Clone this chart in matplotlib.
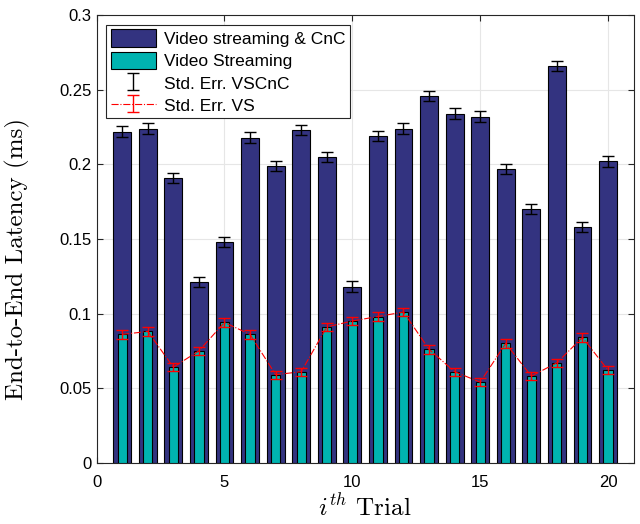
import numpy as np
import matplotlib.pyplot as plt

plt.rcParams['mathtext.fontset'] = 'cm'
plt.rcParams['font.family'] = ['Liberation Sans', 'DejaVu Sans']

# datos
trials = np.arange(1, 21)
vscnc = [0.222, 0.224, 0.191, 0.121, 0.148, 0.218, 0.199, 0.223, 0.205, 0.118,
         0.219, 0.224, 0.246, 0.234, 0.232, 0.197, 0.170, 0.266, 0.158, 0.202]
vs = [0.086, 0.088, 0.064, 0.075, 0.094, 0.086, 0.059, 0.061, 0.091, 0.095,
      0.098, 0.101, 0.076, 0.061, 0.054, 0.080, 0.058, 0.067, 0.084, 0.062]
err_vscnc = [0.0035] * 20
err_vs = [0.0028] * 20

fig = plt.figure(figsize=(6.4, 5.24), dpi=100)
ax = fig.add_axes([0.151, 0.117, 0.839, 0.854])

ax.bar(trials, vscnc, width=0.7, color='#333380', edgecolor='black', linewidth=0.8,
       label='Video streaming & CnC', zorder=2)
ax.bar(trials, vs, width=0.36, color='#00b3b0', edgecolor='black', linewidth=0.8,
       label='Video Streaming', zorder=3)
ax.errorbar(trials, vscnc, yerr=err_vscnc, fmt='none', ecolor='black', elinewidth=1,
            capsize=4, capthick=1, label='Std. Err. VSCnC', zorder=4)
ax.errorbar(trials, vs, yerr=err_vs, fmt='-.', color='red', ecolor='red', linewidth=0.8,
            elinewidth=1, capsize=4, capthick=1, label='Std. Err. VS', zorder=5)

ax.set_xlim(0, 21)
ax.set_ylim(0, 0.3)
ax.set_xticks([0, 5, 10, 15, 20])
ax.set_yticks([0, 0.05, 0.1, 0.15, 0.2, 0.25, 0.3])
ax.set_yticklabels(['0', '0.05', '0.1', '0.15', '0.2', '0.25', '0.3'])
ax.tick_params(direction='in', labelsize=12, top=True, right=True, length=4, color='#262626')
ax.tick_params(axis='x', pad=9)
ax.grid(True, color='#e6e6e6', linewidth=0.8, zorder=0)
ax.set_axisbelow(True)
for s in ax.spines.values():
    s.set_color('#262626')
    s.set_linewidth(0.8)

ax.set_xlabel(r'$i^{th}$ Trial', fontfamily='cmr10', fontsize=18, labelpad=3)
ax.set_ylabel('End-to-End Latency (ms)', fontfamily='cmr10', fontsize=18)
ax.yaxis.set_label_coords(-0.125, 0.455)

leg = ax.legend(loc='upper left', bbox_to_anchor=(0.018, 0.978), fontsize=12.5, fancybox=False,
                framealpha=1, edgecolor='#262626', borderaxespad=0.0, handlelength=2.6,
                handleheight=1.2, labelspacing=0.26, borderpad=0.25, handletextpad=0.5)
leg.get_frame().set_linewidth(0.8)

fig.savefig('out.png', dpi=100)
